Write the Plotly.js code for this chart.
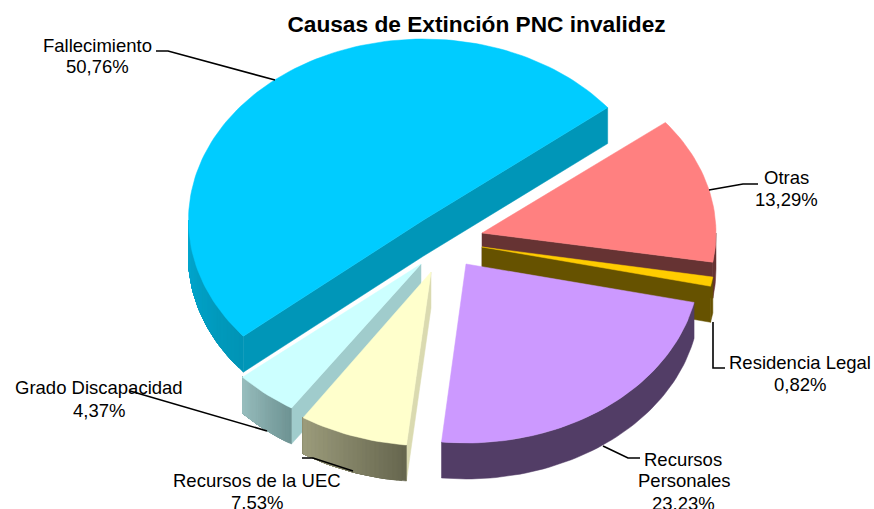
<!DOCTYPE html>
<html>
<head>
<meta charset="utf-8">
<script src="https://cdn.plot.ly/plotly-3.0.1.min.js"></script>
<style>html,body{margin:0;padding:0;background:#fff}#chart{width:874px;height:509px}</style>
</head>
<body>
<div id="chart"></div>
<script>
// ---- data (clockwise from the top-right cut) ----
const categories = ['Otras', 'Residencia Legal', 'Recursos Personales', 'Recursos de la UEC', 'Grado Discapacidad', 'Fallecimiento'];
const shares = [13.29, 0.82, 23.23, 7.53, 4.37, 50.76];
const labelLines = [['Otras'], ['Residencia Legal'], ['Recursos', 'Personales'], ['Recursos de la UEC'], ['Grado Discapacidad'], ['Fallecimiento']];
const chartTitle = 'Causas de Extinción PNC invalidez';

// ---- 3D projection / look ----
const firstAngle = 51.6, depth = 36;
const geometry = [
  {ax: 482, ay: 233, rx: 234, ry: 178, n0: 0, n1: 0},
  {ax: 482, ay: 247, rx: 234, ry: 183, n0: 0, n1: 0},
  {ax: 466, ay: 264, rx: 233.5, ry: 179, n0: 0, n1: 0},
  {ax: 431, ay: 272, rx: 234, ry: 174, n0: 0, n1: 0},
  {ax: 421, ay: 264, rx: 237, ry: 172, n0: 0, n1: 0},
  {ax: 423.5, ay: 220, rx: 235, ry: 181, n0: 1.2, n1: 0}
];
const looks = [
  {top: '#FF8080', faces: ['end'],          face: '#663333', wall: ['#663333', '#663333']},
  {top: '#FFCC00', faces: ['end'],          face: '#665200', wall: ['#665200', '#665200']},
  {top: '#CC99FF', faces: [],               face: null,      wall: ['#523D66', '#523D66']},
  {top: '#FFFFCC', faces: ['start'],        face: '#DADAB0', wall: ['#66664E', '#9C9C7C']},
  {top: '#CCFFFF', faces: ['start'],        face: '#A0CCCC', wall: ['#6E9393', '#97BDBD']},
  {top: '#00CCFF', faces: ['start', 'end'], face: '#0096B8', wall: ['#0094B5', '#00A8D0']}
];
const paintOrder = [5, 0, 1, 4, 3, 2];
const labelSpots = [
  [[786, 177], [786, 199]],
  [[800, 362], [800, 384]],
  [[683, 459], [684, 480], [683, 503]],
  [[257, 480], [257, 502]],
  [[99, 387], [99, 410]],
  [[97, 45], [97, 66]]
];
const leaders = [
  [[709, 190], [743, 184], [758, 184]],
  [[713, 322], [713, 368], [725, 368]],
  [[603, 446], [628, 458], [640, 458]],
  [[302, 458], [313, 458], [353, 471]],
  [[130, 391], [267, 431]],
  [[156, 51], [168, 51], [275, 80]]
];

// ---- helpers ----
const rad = d => d * Math.PI / 180;
const point = (g, a, z) => [g.ax + g.rx * Math.sin(rad(a)), g.ay - g.ry * Math.cos(rad(a)) + z];
function hexMix(c1, c2, t) {
  const p = c => [1, 3, 5].map(i => parseInt(c.substr(i, 2), 16));
  const a = p(c1), b = p(c2);
  return 'rgb(' + a.map((v, i) => Math.round(v + (b[i] - v) * t)).join(',') + ')';
}
function poly(pts, color, name) {
  return {
    type: 'scatter', mode: 'lines',
    x: pts.map(p => p[0]).concat(pts[0][0]),
    y: pts.map(p => p[1]).concat(pts[0][1]),
    fill: 'toself', fillcolor: color,
    line: {width: 0.5, color: color},
    name: name, hoverinfo: 'name', showlegend: false
  };
}
function arc(g, a0, a1, z) {
  const out = [], n = Math.max(2, Math.ceil(Math.abs(a1 - a0) / 1.5));
  for (let i = 0; i <= n; i++) out.push(point(g, a0 + (a1 - a0) * i / n, z));
  return out;
}

// ---- angles from the values ----
const total = shares.reduce((s, v) => s + v, 0);
const spans = [];
let cursor = firstAngle;
shares.forEach(v => { spans.push([cursor, cursor + v / total * 360]); cursor += v / total * 360; });

// ---- traces ----
const traces = [];
paintOrder.forEach(i => {
  const g = geometry[i], L = looks[i], name = categories[i];
  const a0 = spans[i][0] + g.n0, a1 = spans[i][1] + g.n1;
  const apex = [g.ax, g.ay], apexLow = [g.ax, g.ay + depth];
  // cut faces (one polygon when both show, so there is no seam at the apex)
  if (L.faces.length === 2) {
    traces.push(poly([point(g, a1, 0), apex, point(g, a0, 0), point(g, a0, depth), apexLow, point(g, a1, depth)], L.face, name));
  } else if (L.faces.length === 1) {
    const e = L.faces[0] === 'end' ? a1 : a0;
    traces.push(poly([apex, point(g, e, 0), point(g, e, depth), apexLow], L.face, name));
  }
  // outer wall, front half only; each strip runs to the far end so later strips cover it without seams
  const w0 = Math.max(a0, 90), w1 = Math.min(a1, 270);
  if (w1 > w0) {
    const strips = L.wall[0] === L.wall[1] ? 1 : 24;
    for (let s = 0; s < strips; s++) {
      const b0 = w0 + (w1 - w0) * s / strips;
      const top = arc(g, b0, w1, 0), bot = arc(g, w1, b0, depth);
      traces.push(poly(top.concat(bot), hexMix(L.wall[0], L.wall[1], strips === 1 ? 0 : (s + 0.5) / strips), name));
    }
  }
  // top surface
  traces.push(poly([apex].concat(arc(g, a0, a1, 0)), L.top, name + ': ' + shares[i].toFixed(2).replace('.', ',') + '%'));
});

// ---- leader lines ----
leaders.forEach(pts => {
  traces.push({
    type: 'scatter', mode: 'lines',
    x: pts.map(p => p[0]), y: pts.map(p => p[1]),
    line: {color: '#000', width: 1.6},
    hoverinfo: 'skip', showlegend: false
  });
});

// ---- labels ----
const font = {family: '"Liberation Sans", Arial, sans-serif', size: 18.5, color: '#000'};
const annotations = [];
categories.forEach((c, i) => {
  const lines = labelLines[i].concat(shares[i].toFixed(2).replace('.', ',') + '%');
  lines.forEach((t, j) => annotations.push({
    text: t, x: labelSpots[i][j][0], y: labelSpots[i][j][1],
    xref: 'x', yref: 'y', showarrow: false,
    xanchor: 'center', yanchor: 'middle', font: font,
    borderpad: 0, bgcolor: 'rgba(0,0,0,0)'
  }));
});

const hiddenAxis = {visible: false, showgrid: false, zeroline: false, fixedrange: true};
Plotly.newPlot('chart', traces, {
  width: 874, height: 509,
  margin: {l: 0, r: 0, t: 0, b: 0},
  paper_bgcolor: '#fff', plot_bgcolor: '#fff',
  showlegend: false,
  title: {
    text: '<b>' + chartTitle + '</b>',
    x: 476.5 / 874, xanchor: 'center', xref: 'paper',
    y: 1 - 24 / 509, yanchor: 'middle', yref: 'container',
    font: {family: '"Liberation Sans", Arial, sans-serif', size: 22.7, color: '#000'}
  },
  xaxis: Object.assign({range: [0, 874]}, hiddenAxis),
  yaxis: Object.assign({range: [509, 0]}, hiddenAxis),
  annotations: annotations
}, {displayModeBar: false, responsive: false});
</script>
</body>
</html>
